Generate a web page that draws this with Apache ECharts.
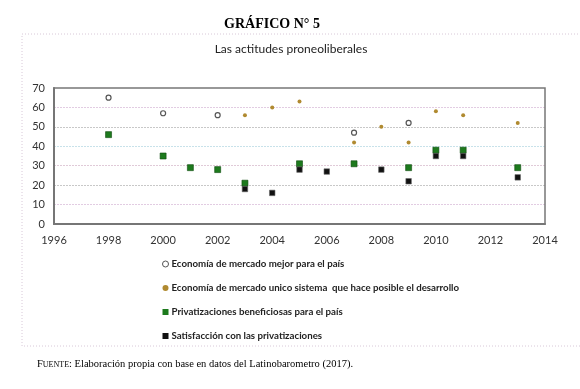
<!DOCTYPE html>
<html><head><meta charset="utf-8">
<script src="https://cdn.jsdelivr.net/npm/echarts@6/dist/echarts.min.js"></script>
<style>html,body{margin:0;padding:0;background:#fff}#c{width:580px;height:389px}</style>
</head><body><div id="c"></div>
<script>
var seriesNames = [
  'Economía de mercado mejor para el país',
  'Economía de mercado unico sistema  que hace posible el desarrollo',
  'Privatizaciones beneficiosas para el país',
  'Satisfacción con las privatizaciones'
];
var mercadoMejorYears = [1998, 2000, 2002, 2007, 2009];
var mercadoMejorValues = [65, 57, 56, 47, 52];
var mercadoUnicoYears = [2003, 2004, 2005, 2007, 2008, 2009, 2010, 2011, 2013];
var mercadoUnicoValues = [56, 60, 63, 42, 50, 42, 58, 56, 52];
var privBenefYears = [1998, 2000, 2001, 2002, 2003, 2005, 2007, 2009, 2010, 2011, 2013];
var privBenefValues = [46, 35, 29, 28, 21, 31, 31, 29, 38, 38, 29];
var privSatisYears = [2003, 2004, 2005, 2006, 2008, 2009, 2010, 2011, 2013];
var privSatisValues = [18, 16, 28, 27, 28, 22, 35, 35, 24];
var xTicks = {min: 1996, max: 2014, interval: 2};
var yTicks = {min: 0, max: 70, interval: 10};

function pairs(xs, ys) { return xs.map(function (x, i) { return [x, ys[i]]; }); }

var chart = echarts.init(document.getElementById('c'), null, {renderer: 'canvas'});
chart.setOption({
  animation: false,
  backgroundColor: '#fff',
  title: [
    {text: 'GRÁFICO N° 5', left: 267, top: 12, textAlign: 'center',
     textStyle: {fontFamily: 'Liberation Serif', fontSize: 14, fontWeight: 'bold', color: '#000'}},
    {text: 'Las actitudes proneoliberales', left: 286, top: 38, textAlign: 'center',
     textStyle: {fontFamily: 'Lato', fontSize: 12, fontWeight: 'normal', color: '#222'}},
    {text: '{sc|F}{sm|UENTE}{n|: Elaboración propia con base en datos del Latinobarometro (2017).}',
     left: 32, top: 354,
     textStyle: {fontWeight: 'normal', rich: {
       sc: {fontFamily: 'Liberation Serif', fontSize: 10.5, fontWeight: 'normal', color: '#000'},
       sm: {fontFamily: 'Liberation Serif', fontSize: 8, fontWeight: 'normal', color: '#000'},
       n: {fontFamily: 'Liberation Serif', fontSize: 10.5, fontWeight: 'normal', color: '#000'}
     }}}
  ],
  legend: {
    orient: 'vertical', left: 157, top: 254, itemGap: 14, itemWidth: 6, itemHeight: 6,
    textStyle: {fontFamily: 'Lato', fontSize: 9.7, fontWeight: 'bold', color: '#222', padding: [0, 0, 0, -2]},
    data: [
      {name: seriesNames[0], icon: 'circle', itemStyle: {color: '#fff', borderColor: '#555', borderWidth: 1}},
      {name: seriesNames[1], icon: 'circle', itemStyle: {color: '#b08a30', borderWidth: 0}},
      {name: seriesNames[2], icon: 'rect', itemStyle: {color: '#1d7a1d', borderWidth: 0}},
      {name: seriesNames[3], icon: 'rect', itemStyle: {color: '#111', borderWidth: 0}}
    ]
  },
  grid: {left: 54, right: 35, top: 88, bottom: 165},
  xAxis: {
    type: 'value', min: xTicks.min, max: xTicks.max, interval: xTicks.interval,
    axisLine: {show: true, lineStyle: {color: '#777', width: 2}},
    axisTick: {show: false},
    splitLine: {show: false},
    axisLabel: {margin: 11, fontFamily: 'Lato', fontSize: 11, color: '#333',
      formatter: function (v) { return String(v); }}
  },
  yAxis: {
    type: 'value', min: yTicks.min, max: yTicks.max, interval: yTicks.interval,
    axisLine: {show: true, lineStyle: {color: '#777', width: 2}},
    axisTick: {show: false},
    splitLine: {show: true, lineStyle: {
      color: ['#ffffff', '#e2cce2', '#c8c8c8', '#e0cad8', '#c8e2ea', '#c8c8c8', '#e2cce2', '#ffffff'],
      type: [2, 1], width: 1}},
    axisLabel: {margin: 9, fontFamily: 'Lato', fontSize: 11, color: '#333'}
  },
  series: [
    {name: seriesNames[0], type: 'scatter', data: pairs(mercadoMejorYears, mercadoMejorValues),
     symbol: 'circle', symbolSize: 5, itemStyle: {color: '#fff', borderColor: '#555', borderWidth: 1.2, opacity: 1}},
    {name: seriesNames[1], type: 'scatter', data: pairs(mercadoUnicoYears, mercadoUnicoValues),
     symbol: 'circle', symbolSize: 4, itemStyle: {color: '#b08a30', opacity: 1}},
    {name: seriesNames[2], type: 'scatter', data: pairs(privBenefYears, privBenefValues),
     symbol: 'rect', symbolSize: 6, itemStyle: {color: '#1d7a1d', borderColor: '#0d4a0d', borderWidth: 0.6, opacity: 1}},
    {name: seriesNames[3], type: 'scatter', data: pairs(privSatisYears, privSatisValues),
     symbol: 'rect', symbolSize: 5.5, itemStyle: {color: '#111', borderColor: '#666', borderWidth: 0.6, opacity: 1}}
  ],
  graphic: [
    {type: 'rect', shape: {x: 22, y: 34, width: 570, height: 312}, silent: true,
     style: {fill: null, stroke: '#d8c8d8', lineWidth: 1, lineDash: [1, 2]}, z: -1},
    {type: 'rect', shape: {x: 54, y: 88, width: 491, height: 136}, silent: true,
     style: {fill: null, stroke: '#777', lineWidth: 1.5}, z: 10}
  ]
});
</script></body></html>
